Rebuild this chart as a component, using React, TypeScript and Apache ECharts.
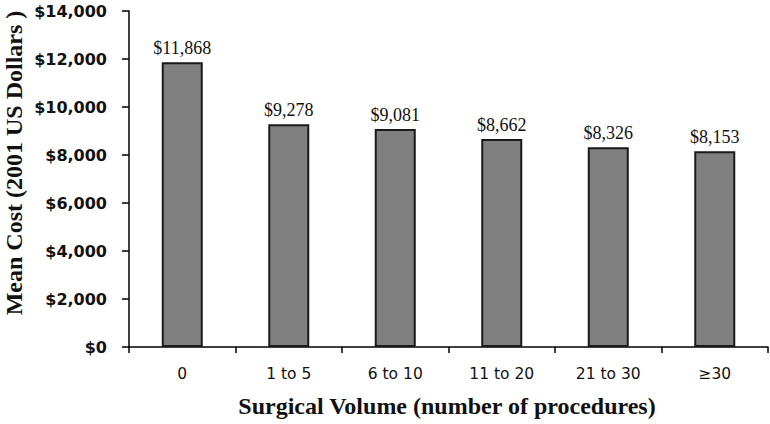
import React, { useEffect, useRef } from "react";
import * as echarts from "echarts";

const categories = ["0", "1 to 5", "6 to 10", "11 to 20", "21 to 30", "≥30"];
const meanCost = [11868, 9278, 9081, 8662, 8326, 8153];
const yMax = 14000;
const yInterval = 2000;
const xTitle = "Surgical Volume (number of procedures)";
const yTitle = "Mean Cost (2001 US Dollars )";

const fmt = (v: number) => "$" + v.toLocaleString("en-US");

export default function App() {
  const ref = useRef<HTMLDivElement>(null);
  useEffect(() => {
    if (!ref.current) return;
    const chart = echarts.init(ref.current, null, { renderer: "svg" });
    chart.setOption({
      animation: false,
      backgroundColor: "#ffffff",
      grid: { left: 129, right: 2, top: 11, bottom: 77, containLabel: false },
      xAxis: {
        type: "category",
        data: categories,
        axisLine: { lineStyle: { color: "#000", width: 1.5 } },
        axisTick: { show: true, alignWithLabel: false, length: 6, lineStyle: { color: "#000", width: 1.5 } },
        axisLabel: {
          margin: 19,
          color: "#111",
          fontFamily: "DejaVu Sans",
          fontSize: 15.5,
        },
      },
      yAxis: {
        type: "value",
        min: 0,
        max: yMax,
        interval: yInterval,
        splitLine: { show: false },
        axisLine: { show: true, lineStyle: { color: "#000", width: 1.5 } },
        axisTick: { show: true, inside: false, length: 7, lineStyle: { color: "#000", width: 1.5 } },
        axisLabel: {
          margin: 22,
          color: "#111",
          fontFamily: "DejaVu Sans",
          fontWeight: "bold",
          fontSize: 16,
          formatter: (v: number) => fmt(v),
        },
      },
      series: [
        {
          type: "bar",
          data: meanCost,
          barWidth: 41,
          itemStyle: { color: "#808080", borderColor: "#1a1a1a", borderWidth: 2 },
          label: {
            show: true,
            position: "top",
            distance: 5,
            color: "#111",
            fontFamily: "Liberation Serif",
            fontSize: 18,
            formatter: (p: any) => fmt(p.value),
          },
        },
      ],
      graphic: [
        {
          type: "text",
          x: 447,
          y: 406,
          style: {
            text: xTitle,
            fill: "#111",
            font: "bold 24px 'Liberation Serif'",
            textAlign: "center",
            textVerticalAlign: "middle",
          },
        },
        {
          type: "text",
          x: 14,
          y: 163,
          rotation: Math.PI / 2,
          style: {
            text: yTitle,
            fill: "#111",
            font: "bold 24px 'Liberation Serif'",
            textAlign: "center",
            textVerticalAlign: "middle",
          },
        },
      ],
    });
    return () => chart.dispose();
  }, []);
  return (
    <div
      ref={ref}
      style={{ position: "absolute", left: 0, top: 0, width: 770, height: 424 }}
    />
  );
}
